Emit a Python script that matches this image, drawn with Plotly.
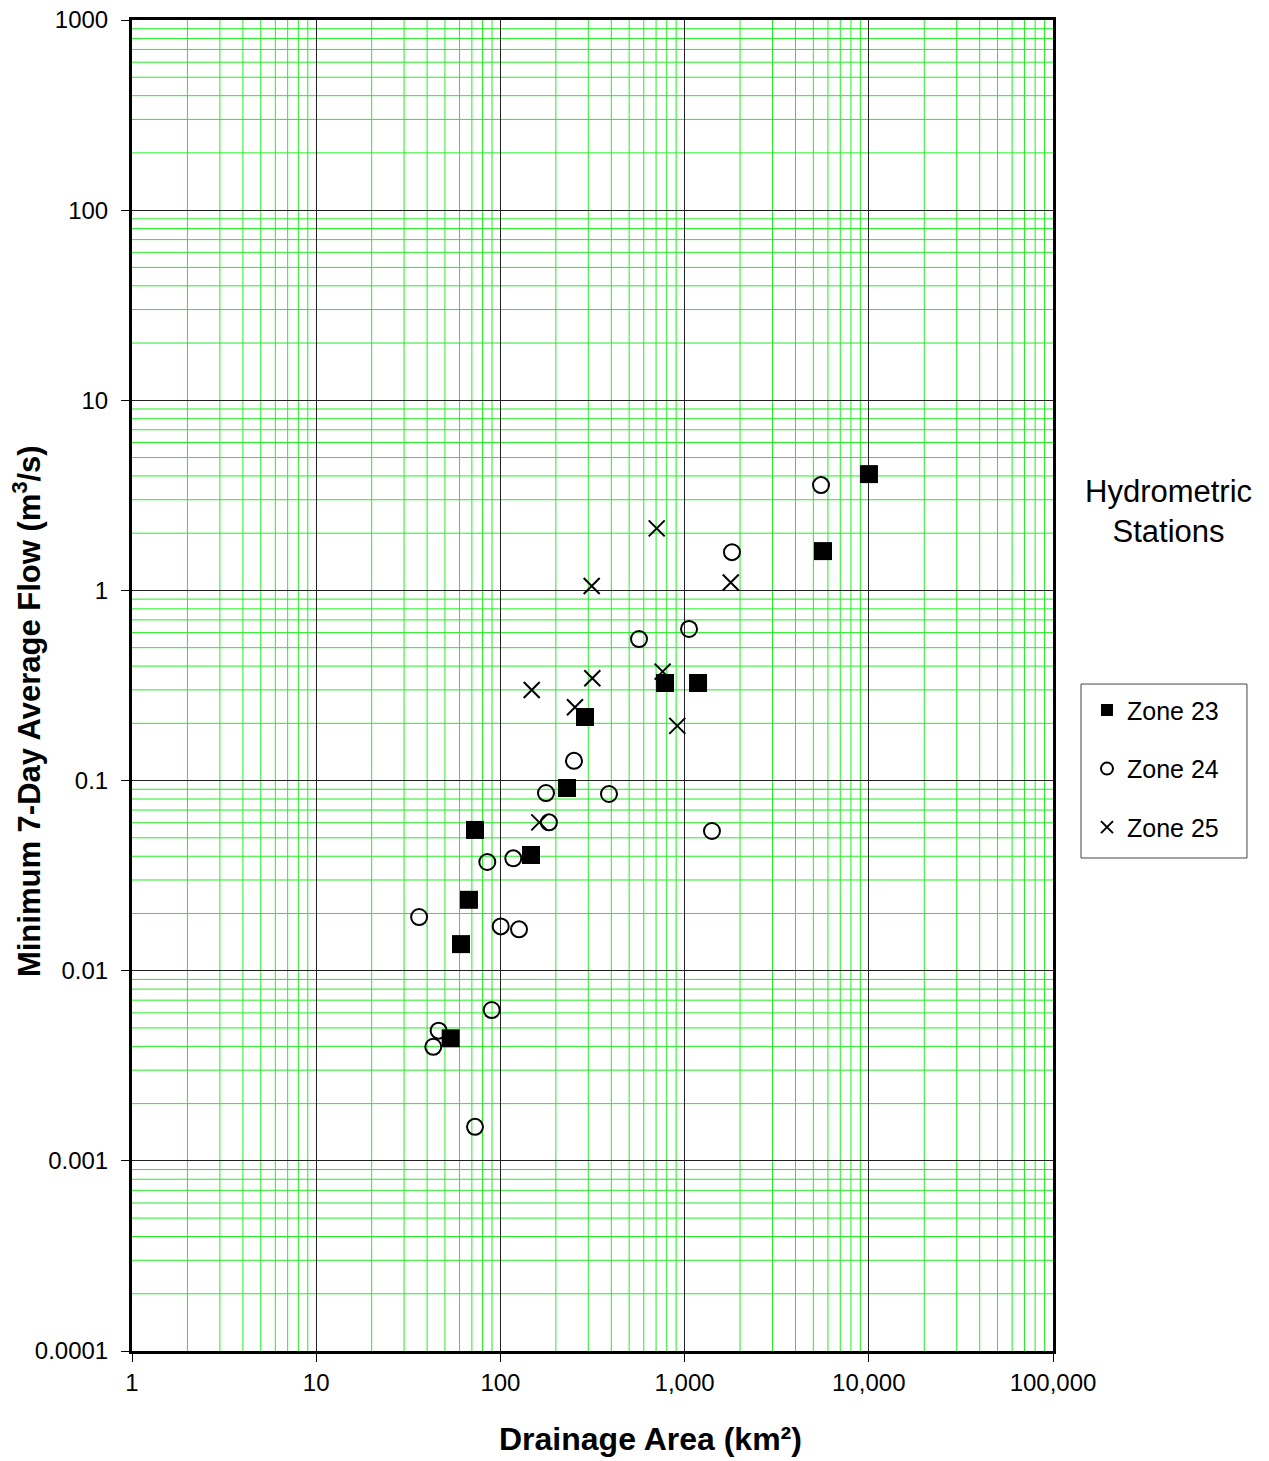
import plotly.graph_objects as go

# Hydrometric station data: drainage area (km²) vs minimum 7-day average flow (m³/s)
zone23_area = [10020, 5640, 1183, 783, 288, 230, 146.6, 72.8, 67.5, 61.1, 53.7]
zone23_flow = [4.09, 1.61, 0.326, 0.326, 0.216, 0.0914, 0.0406, 0.055, 0.0236, 0.0138, 0.00441]

zone24_area = [5502, 1808, 1057, 565.6, 250.9, 176.8, 388.6, 183.5, 1408, 117.5, 84.9,
               36.2, 100.4, 126.2, 89.7, 46.2, 43.2, 72.8]
zone24_flow = [3.58, 1.59, 0.627, 0.555, 0.127, 0.086, 0.085, 0.0603, 0.0543, 0.039, 0.0373,
               0.01916, 0.0171, 0.0165, 0.00621, 0.00484, 0.00398, 0.00151]

zone25_area = [705.6, 313, 1780, 315.5, 147.9, 760, 254, 912.7, 162.6]
zone25_flow = [2.12, 1.055, 1.10, 0.345, 0.2995, 0.374, 0.243, 0.194, 0.0603]

x_tickvals = [1, 10, 100, 1000, 10000, 100000]
x_ticktext = ["1", "10", "100", "1,000", "10,000", "100,000"]
y_tickvals = [1000, 100, 10, 1, 0.1, 0.01, 0.001, 0.0001]
y_ticktext = ["1000", "100", "10", "1", "0.1", "0.01", "0.001", "0.0001"]

FONT = "Liberation Sans, Arial, sans-serif"
GREEN = "#22ee22"


def minor_positions(decade_lo, decade_hi):
    """Gridline positions at 2..9 within each decade of a log axis."""
    return [m * 10.0 ** d for d in range(decade_lo, decade_hi) for m in range(2, 10)]


fig = go.Figure()

fig.add_trace(go.Scatter(
    x=zone25_area, y=zone25_flow, mode="markers", name="Zone 25",
    legendrank=3, legendgroup="z25",
    marker=dict(symbol="x-thin-open", size=16, color="black",
                line=dict(color="black", width=2)),
))
fig.add_trace(go.Scatter(
    x=zone24_area, y=zone24_flow, mode="markers", name="Zone 24",
    legendrank=2, legendgroup="z24",
    marker=dict(symbol="circle-open", size=16, color="black",
                line=dict(color="black", width=2)),
))
fig.add_trace(go.Scatter(
    x=zone23_area, y=zone23_flow, mode="markers", name="Zone 23",
    legendrank=1, legendgroup="z23",
    marker=dict(symbol="square", size=18, color="black", line=dict(width=0)),
))

axis_common = dict(
    type="log", automargin=False,
    showline=True, linewidth=3, linecolor="black", mirror=True,
    showgrid=True, gridcolor="#222222", gridwidth=1,
    ticks="outside", ticklen=8, tickcolor="black", tickwidth=1,
    tickfont=dict(family=FONT, size=24, color="black"),
    zeroline=False,
)

fig.update_xaxes(range=[0, 5], tickmode="array", tickvals=x_tickvals,
                 ticktext=x_ticktext, **axis_common)
fig.update_yaxes(range=[-4, 3], tickmode="array", tickvals=y_tickvals,
                 ticktext=y_ticktext, ticklabelstandoff=8, **axis_common)

# green minor gridlines (2..9 in every decade)
grid_shapes = []
for v in minor_positions(0, 5):
    grid_shapes.append(dict(type="line", xref="x", yref="paper", x0=v, x1=v, y0=0, y1=1,
                            line=dict(color=GREEN, width=1), layer="below"))
for v in minor_positions(-4, 3):
    grid_shapes.append(dict(type="line", xref="paper", yref="y", x0=0, x1=1, y0=v, y1=v,
                            line=dict(color=GREEN, width=1), layer="below"))

# frame around the legend
grid_shapes.append(dict(type="rect", xref="paper", yref="paper",
                        x0=1.0304, x1=1.2106, y0=0.3704, y1=0.5011,
                        line=dict(color="#444444", width=1), fillcolor="white", layer="below"))

fig.update_layout(
    width=1269, height=1461,
    margin=dict(l=132, r=216, t=20, b=110),
    plot_bgcolor="white", paper_bgcolor="white",
    font=dict(family=FONT, color="black"),
    showlegend=True,
    legend=dict(
        x=1.0369, y=0.4986, xanchor="left", yanchor="top",
        borderwidth=0, bgcolor="rgba(0,0,0,0)",
        font=dict(family=FONT, size=25, color="black"),
        itemsizing="constant", tracegroupgap=23,
    ),
    shapes=grid_shapes,
    annotations=[
        dict(text="Hydrometric<br>Stations", x=1.1249, y=0.631, xref="paper", yref="paper",
             xanchor="center", yanchor="middle", showarrow=False,
             font=dict(family=FONT, size=31, color="black")),
        dict(text="<b>Drainage Area (km²)</b>", x=0.5635, y=-0.0661, xref="paper", yref="paper",
             xanchor="center", yanchor="middle", showarrow=False,
             font=dict(family=FONT, size=32, color="black")),
        dict(text="<b>Minimum 7-Day Average Flow (m<sup>3</sup>/s)</b>", x=-0.114, y=0.4808,
             xref="paper", yref="paper", xanchor="center", yanchor="middle",
             textangle=-90, showarrow=False,
             font=dict(family=FONT, size=31, color="black")),
    ],
)

fig.write_html("out.html")
